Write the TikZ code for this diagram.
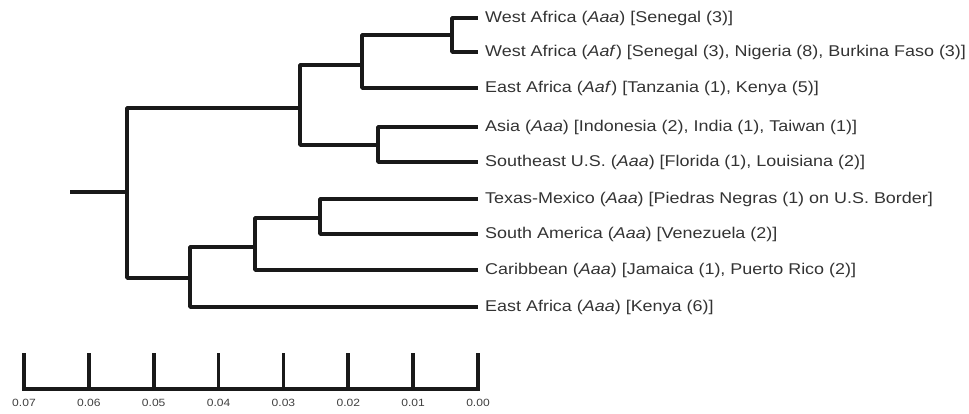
\documentclass[tikz,border=0pt]{standalone}
\usepackage{fontspec}
\setmainfont[FakeStretch=1.15]{Liberation Sans}
\begin{document}
\begin{tikzpicture}[x=1pt,y=-1pt,
  branch/.style={line width=3.6pt, line join=round, line cap=rect, black!90},
  leaf/.style={anchor=west, inner xsep=9pt, inner ysep=0pt, text=black!80,
    font=\fontsize{15.6}{17}\selectfont},
  ticklabel/.style={anchor=north, inner sep=0pt, text=black!75,
    font=\fontsize{10.5}{12}\selectfont}]
\useasboundingbox (0,0) rectangle (969,414);
% internal nodes
\coordinate (stub) at (72,192);
\coordinate (root) at (127,192);
\coordinate (U) at (300,108);
\coordinate (A) at (362,65);
\coordinate (WA) at (452,35);
\coordinate (B) at (378,145);
\coordinate (L) at (190,278);
\coordinate (M) at (255,247);
\coordinate (N) at (320,218);
% leaves
\node[leaf] (l1) at (476,18) {West Africa (\textit{Aaa}) [Senegal (3)]};
\node[leaf] (l2) at (476,52) {West Africa (\textit{Aaf}) [Senegal (3), Nigeria (8), Burkina Faso (3)]};
\node[leaf] (l3) at (476,88) {East Africa (\textit{Aaf}) [Tanzania (1), Kenya (5)]};
\node[leaf] (l4) at (476,127) {Asia (\textit{Aaa}) [Indonesia (2), India (1), Taiwan (1)]};
\node[leaf] (l5) at (476,162) {Southeast U.S. (\textit{Aaa}) [Florida (1), Louisiana (2)]};
\node[leaf] (l6) at (476,199) {Texas-Mexico (\textit{Aaa}) [Piedras Negras (1) on U.S. Border]};
\node[leaf] (l7) at (476,234) {South America (\textit{Aaa}) [Venezuela (2)]};
\node[leaf] (l8) at (476,270) {Caribbean (\textit{Aaa}) [Jamaica (1), Puerto Rico (2)]};
\node[leaf] (l9) at (476,307) {East Africa (\textit{Aaa}) [Kenya (6)]};
% branches
\draw[branch] (stub) -- (root);
\draw[branch] (root) |- (U);
\draw[branch] (root) |- (L);
\draw[branch] (U) |- (A);
\draw[branch] (U) |- (B);
\draw[branch] (A) |- (WA);
\draw[branch] (A) |- (l3.west);
\draw[branch] (WA) |- (l1.west);
\draw[branch] (WA) |- (l2.west);
\draw[branch] (B) |- (l4.west);
\draw[branch] (B) |- (l5.west);
\draw[branch] (L) |- (M);
\draw[branch] (L) |- (l9.west);
\draw[branch] (M) |- (N);
\draw[branch] (M) |- (l8.west);
\draw[branch] (N) |- (l6.west);
\draw[branch] (N) |- (l7.west);
% scale bar
\coordinate (s0) at (24,389);
\coordinate (s7) at (478,389);
\draw[branch] (s0) -- (s7);
\foreach \i/\lab in {0/0.07,1/0.06,2/0.05,3/0.04,4/0.03,5/0.02,6/0.01,7/0.00}{
  \coordinate (t\i) at ({24+\i*64.857},389);
  \draw[branch] (t\i) -- ++(0,-34);
  \node[ticklabel] (tl\i) at ({24+\i*64.857},399) {\lab};
}
\end{tikzpicture}
\end{document}
